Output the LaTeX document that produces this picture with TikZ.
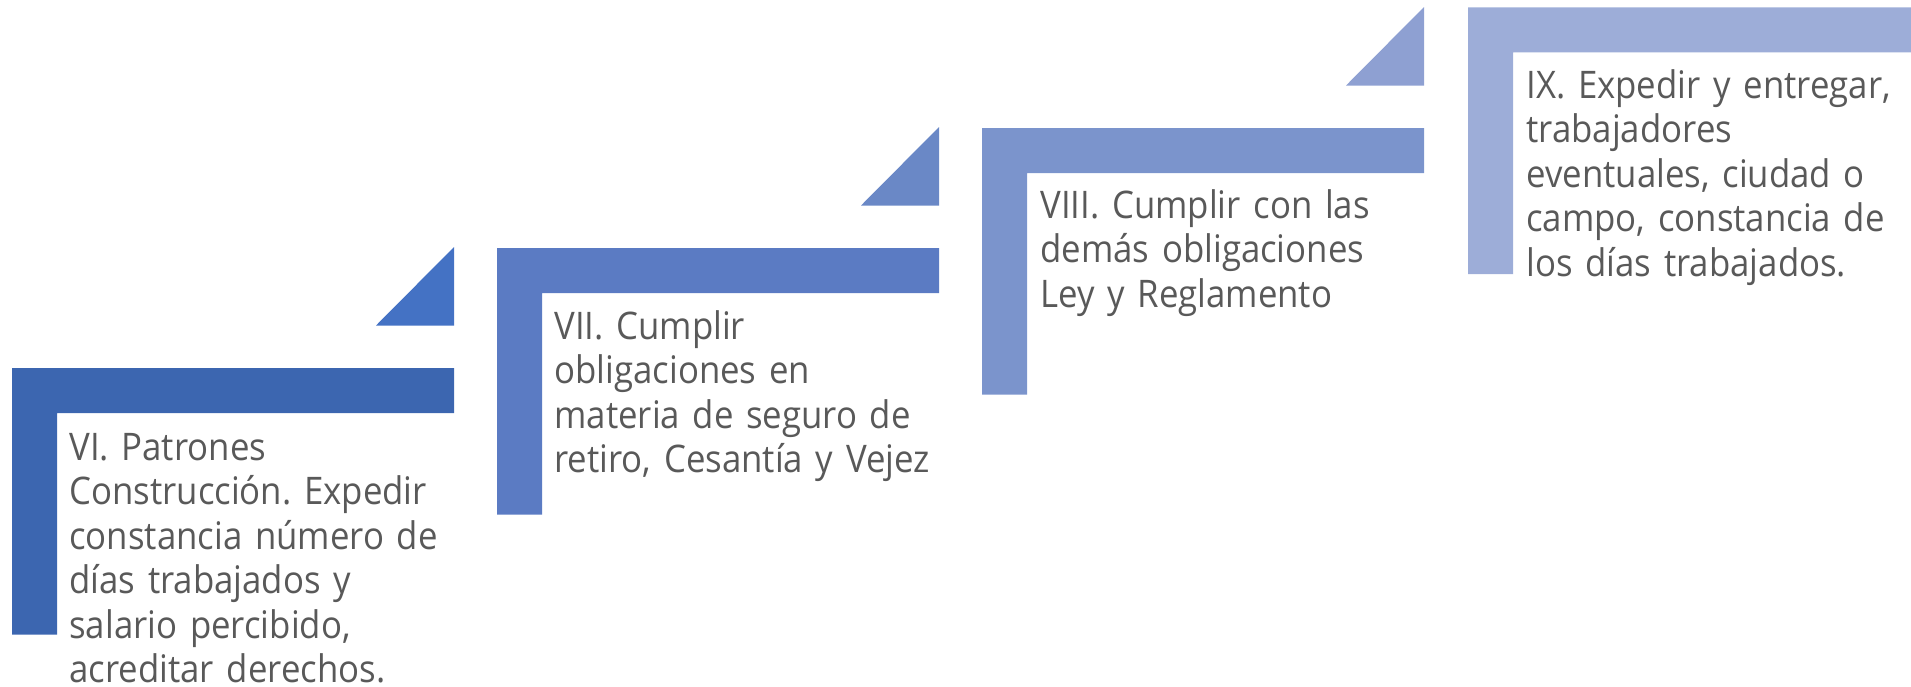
\documentclass[tikz,border=0pt]{standalone}
\usepackage{fontspec}
\setmainfont{Open Sans}[FakeStretch=0.915]
\frenchspacing
\definecolor{txt}{HTML}{595959}
\definecolor{cLa}{HTML}{3C66B0}
\definecolor{cTa}{HTML}{4472C4}
\definecolor{cLb}{HTML}{5B7BC3}
\definecolor{cTb}{HTML}{6A88C6}
\definecolor{cLc}{HTML}{7B94CC}
\definecolor{cTc}{HTML}{8EA0D2}
\definecolor{cLd}{HTML}{9DADD8}
\tikzset{
  lbar/.style={fill=#1, draw=none},
  tri/.style={fill=#1, draw=none},
  stepnote/.style={anchor=base west, inner sep=0pt, text width=215pt, align=left,
    text=txt, font=\fontsize{19}{22.25}\selectfont},
}
\newcommand{\stepL}[4]{% x, y (top-left), color, name
  \fill[lbar=#3] (#1,#2) -- ++(442,0) -- ++(0,45) -- ++(-397,0) -- ++(0,221.5) -- ++(-45,0) -- cycle;
  \fill[tri=#4] (#1+442,#2-121) -- (#1+442,#2-42.5) -- (#1+364,#2-42.5) -- cycle;
}
\begin{document}
\begin{tikzpicture}[x=0.5pt,y=-0.5pt]
\useasboundingbox (0,0) rectangle (1911,686);
\stepL{12}{368}{cLa}{cTa}
\stepL{497}{248}{cLb}{cTb}
\stepL{982}{128}{cLc}{cTc}
\fill[lbar=cLd] (1468,7.3) -- (1911,7.3) -- (1911,52.3) -- (1513,52.3) -- (1513,274) -- (1468,274) -- cycle;
\node[stepnote] (s6) at (69,460) {VI. Patrones\\Construcción. Expedir\\constancia número de\\días trabajados y\\salario percibido,\\acreditar derechos.};
\node[stepnote] (s7) at (554,339) {VII. Cumplir\\obligaciones en\\materia de seguro de\\retiro, Cesantía y Vejez};
\node[stepnote] (s8) at (1040,218) {VIII. Cumplir con las\\demás obligaciones\\Ley y Reglamento};
\node[stepnote] (s9) at (1526,98) {IX. Expedir y entregar,\\trabajadores\\eventuales, ciudad o\\campo, constancia de\\los días trabajados.};
\end{tikzpicture}
\end{document}
